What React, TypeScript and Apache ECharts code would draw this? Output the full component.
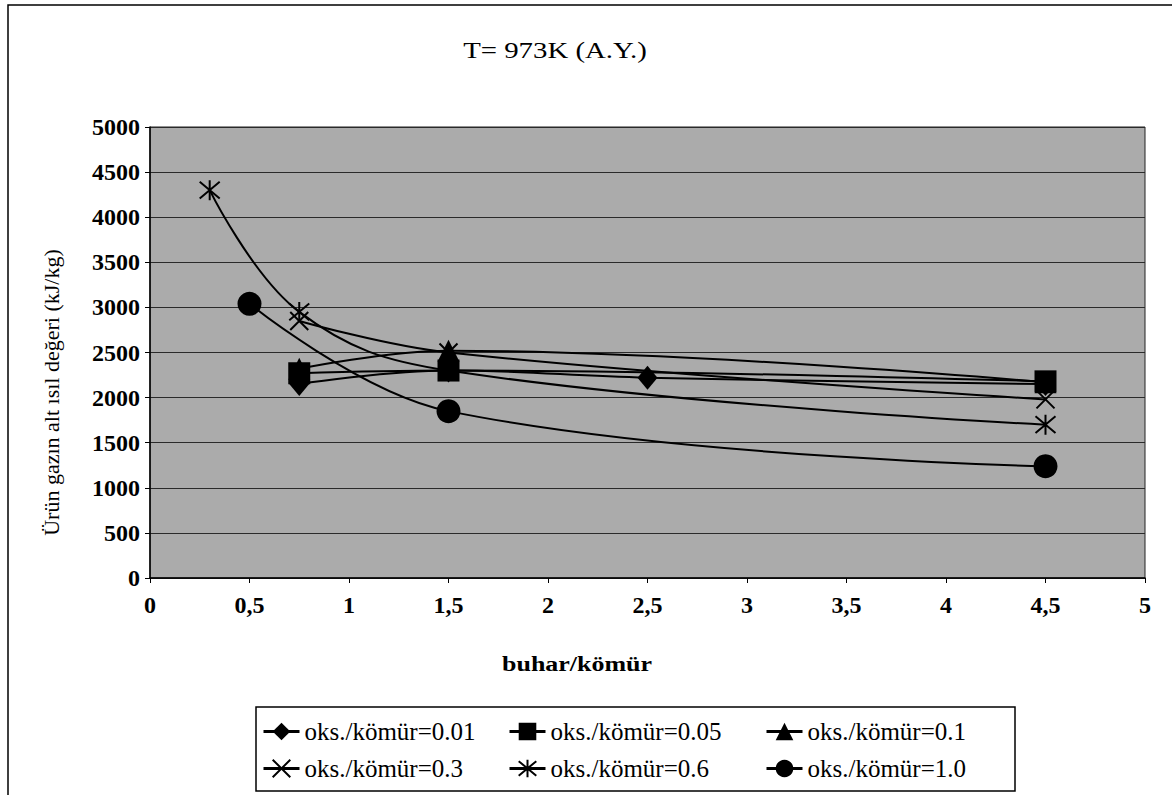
import React, { useEffect, useRef } from 'react';
import * as echarts from 'echarts';

const chartTitle = 'T= 973K (A.Y.)';
const xAxisName = 'buhar/kömür';
const yAxisName = 'Ürün gazın alt ısıl değeri (kJ/kg)';

const seriesNames = [
  'oks./kömür=0.01',
  'oks./kömür=0.05',
  'oks./kömür=0.1',
  'oks./kömür=0.3',
  'oks./kömür=0.6',
  'oks./kömür=1.0',
];

const x001 = [0.75, 1.5, 2.5, 4.5];
const y001 = [2150, 2300, 2220, 2150];
const x005 = [0.75, 1.5, 4.5];
const y005 = [2270, 2300, 2180];
const x01 = [0.75, 1.5, 4.5];
const y01 = [2320, 2520, 2170];
const x03 = [0.75, 1.5, 4.5];
const y03 = [2850, 2500, 1980];
const x06 = [0.3, 0.75, 1.5, 4.5];
const y06 = [4300, 2950, 2300, 1700];
const x10 = [0.5, 1.5, 4.5];
const y10 = [3040, 1850, 1240];

const xs = [x001, x005, x01, x03, x06, x10];
const ys = [y001, y005, y01, y03, y06, y10];

const X_SYM = 'path://M0,0L10,10M10,0L0,10';
const STAR_SYM = 'path://M0,0L10,10M10,0L0,10M5,-1L5,11';
const symbols = ['diamond', 'rect', 'triangle', X_SYM, STAR_SYM, 'circle'];
const symbolSizes = [[20, 24], 22, 22, 18, 20, 24];

const FONT = 'Liberation Serif';

export default function App() {
  const ref = useRef<HTMLDivElement>(null);
  useEffect(() => {
    if (!ref.current) return;
    const chart = echarts.init(ref.current, null, { renderer: 'svg' });
    const series = seriesNames.map((name, i) => ({
      name,
      type: 'line',
      smooth: 0.4,
      data: xs[i].map((x, j) => [x, ys[i][j]]),
      symbol: symbols[i],
      symbolSize: symbolSizes[i],
      showAllSymbol: true,
      lineStyle: { color: '#000', width: 2 },
      itemStyle: {
        color: '#000',
        borderColor: '#000',
        borderWidth: i === 3 || i === 4 ? 2 : 0,
      },
      z: 3,
    }));
    const legendLefts = [262, 508, 765];
    const legendTops = [719, 756];
    const legends = seriesNames.map((name, i) => ({
      data: [name],
      left: legendLefts[i % 3],
      top: legendTops[Math.floor(i / 3)],
      padding: 0,
      itemWidth: 36,
      itemHeight: 22,
      itemGap: 3,
      lineStyle: { width: 3 },
      textStyle: { fontFamily: FONT, fontSize: 25, color: '#000' },
      selectedMode: false,
    }));
    chart.setOption({
      animation: false,
      backgroundColor: '#fff',
      textStyle: { fontFamily: FONT },
      legend: legends,
      grid: {
        left: 150,
        right: 27,
        top: 127,
        bottom: 217,
        show: true,
        backgroundColor: '#ababab',
        borderColor: '#222',
        borderWidth: 1,
      },
      xAxis: {
        type: 'value',
        min: 0,
        max: 5,
        interval: 0.5,
        axisLine: { show: true, lineStyle: { color: '#000', width: 1.5 } },
        axisTick: { show: true, length: 5, lineStyle: { color: '#000' } },
        axisLabel: {
          fontFamily: FONT,
          fontSize: 24,
          fontWeight: 'bold',
          color: '#000',
          margin: 15,
          formatter: (v: number) => String(v).replace('.', ','),
        },
        splitLine: { show: false },
      },
      yAxis: {
        type: 'value',
        min: 0,
        max: 5000,
        interval: 500,
        name: yAxisName,
        nameLocation: 'middle',
        nameGap: 88,
        nameTextStyle: { fontFamily: FONT, fontSize: 22, color: '#000', padding: [0, 80, 0, 0] },
        axisLine: { show: true, lineStyle: { color: '#000', width: 1.5 } },
        axisTick: { show: true, length: 5, lineStyle: { color: '#000' } },
        axisLabel: {
          fontFamily: FONT,
          fontSize: 24,
          fontWeight: 'bold',
          color: '#000',
          margin: 10,
          formatter: (v: number) => String(v),
        },
        splitLine: { show: true, lineStyle: { color: '#2a2a2a', width: 1 } },
      },
      graphic: [
        {
          type: 'rect',
          shape: { x: 8, y: 5, width: 1200, height: 820 },
          style: { fill: 'none', stroke: '#000', lineWidth: 1.5 },
          silent: true,
          z: -1,
        },
        {
          type: 'rect',
          shape: { x: 256, y: 707, width: 759, height: 84 },
          style: { fill: '#fff', stroke: '#000', lineWidth: 1.5 },
          silent: true,
          z: -1,
        },
        {
          type: 'text',
          x: 555,
          y: 50,
          scaleX: 1.2,
          style: {
            text: chartTitle,
            fontFamily: FONT,
            fontSize: 24,
            fill: '#000',
            textAlign: 'center',
            textVerticalAlign: 'middle',
          },
        },
        {
          type: 'text',
          x: 577,
          y: 664,
          scaleX: 1.18,
          style: {
            text: xAxisName,
            fontFamily: FONT,
            fontSize: 22,
            fontWeight: 'bold',
            fill: '#000',
            textAlign: 'center',
            textVerticalAlign: 'middle',
          },
        },
      ],
      series,
    });
    return () => chart.dispose();
  }, []);
  return (
    <div
      ref={ref}
      style={{ position: 'fixed', left: 0, top: 0, width: 1172, height: 795 }}
    />
  );
}
